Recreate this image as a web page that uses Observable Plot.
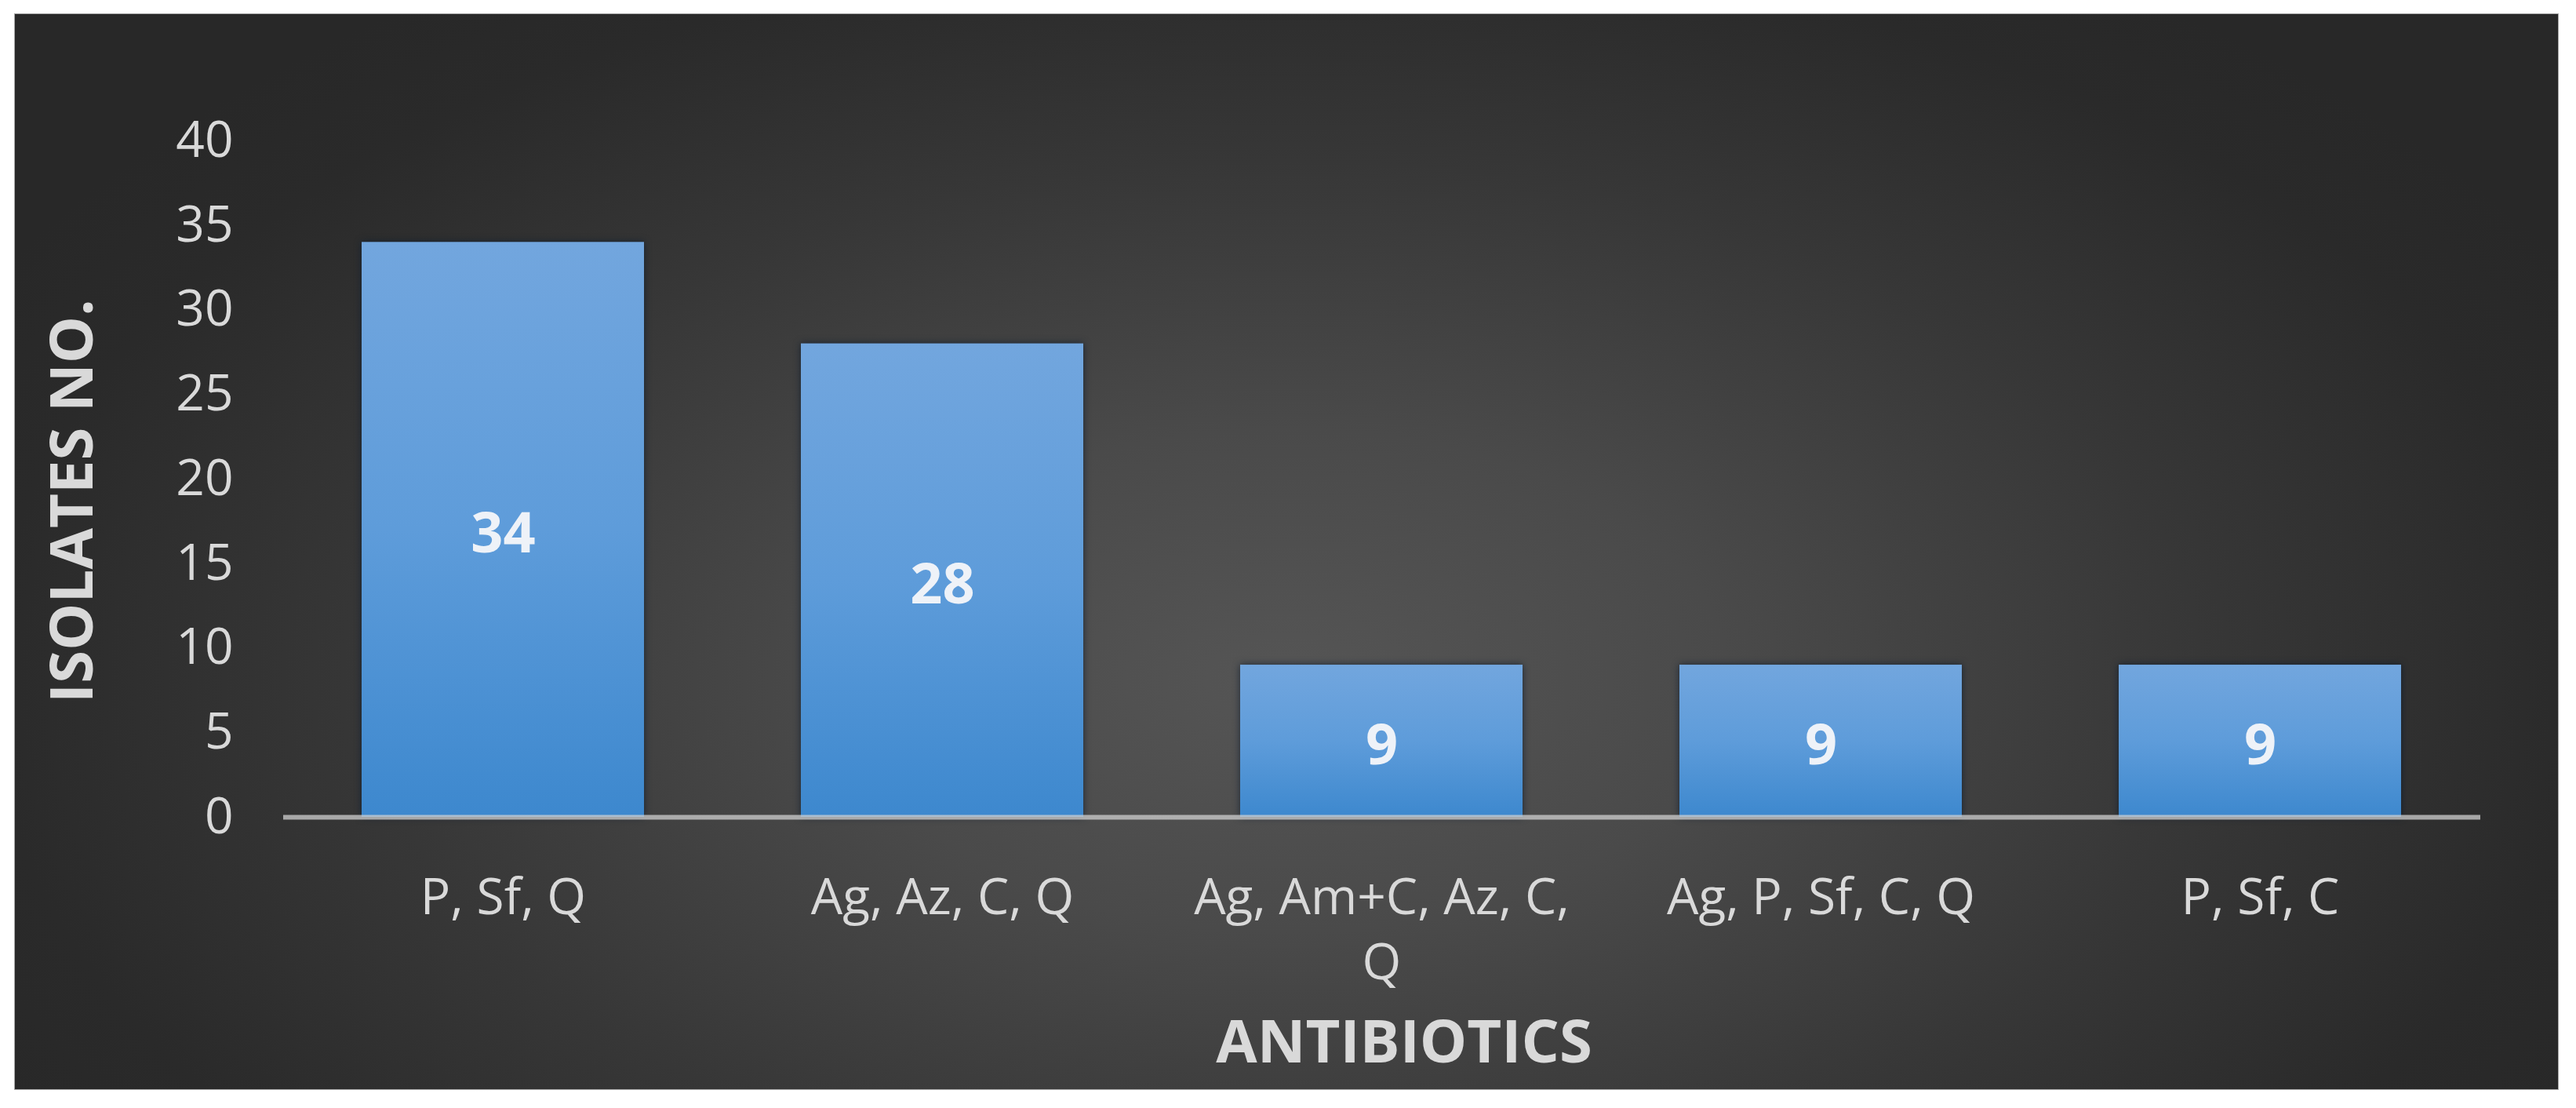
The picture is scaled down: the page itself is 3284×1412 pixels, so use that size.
<!DOCTYPE html>
<html>
<head>
<meta charset="utf-8">
<script src="https://cdn.jsdelivr.net/npm/d3@7"></script>
<script src="https://cdn.jsdelivr.net/npm/@observablehq/plot@0.6"></script>
<style>
  html, body { margin: 0; padding: 0; background: #ffffff; }
  #wrap { position: relative; width: 3284px; height: 1412px; overflow: hidden; }
  #panel {
    position: absolute; left: 18px; top: 17px; width: 3244px; height: 1372px;
    box-sizing: border-box; border: 1px solid #a8a8a8;
    background: radial-gradient(ellipse 58% 78% at 50% 62%, #555555 0%, #4a4a4a 30%, #373737 62%, #2a2a2a 88%, #282828 100%);
  }
  #chart { position: absolute; left: 0; top: 0; }
  #chart g[aria-label="bar"] rect { filter: drop-shadow(0 0 5px rgba(10, 25, 45, 0.75)); }
</style>
</head>
<body>
<div id="wrap">
  <div id="panel"></div>
  <div id="chart"></div>
</div>
<script>
const categories = ["P, Sf, Q", "Ag, Az, C, Q", "Ag, Am+C, Az, C, Q", "Ag, P, Sf, C, Q", "P, Sf, C"];
const categoryLabels = ["P, Sf, Q", "Ag, Az, C, Q", "Ag, Am+C, Az, C,\nQ", "Ag, P, Sf, C, Q", "P, Sf, C"];
const isolates = [34, 28, 9, 9, 9];
const yTicks = [0, 5, 10, 15, 20, 25, 30, 35, 40];
const yTitle = "ISOLATES NO.";
const xTitle = "ANTIBIOTICS";

const data = categories.map((c, i) => ({category: c, value: isolates[i]}));
const labelOf = new Map(categories.map((c, i) => [c, categoryLabels[i]]));

const gradientDefs = () => {
  const defs = d3.create("svg:defs");
  const g = defs.append("linearGradient")
    .attr("id", "barGrad").attr("x1", 0).attr("y1", 0).attr("x2", 0).attr("y2", 1);
  g.append("stop").attr("offset", "0%").attr("stop-color", "#72a6de");
  g.append("stop").attr("offset", "50%").attr("stop-color", "#5e9cda");
  g.append("stop").attr("offset", "100%").attr("stop-color", "#3d88ce");
  return defs.node();
};

const chart = Plot.plot({
  width: 3284,
  height: 1412,
  marginLeft: 361,
  marginRight: 122,
  marginTop: 179,
  marginBottom: 371,
  style: {background: "transparent", fontFamily: "'Open Sans', 'Noto Sans', sans-serif", color: "#d9d9d9", overflow: "visible"},
  x: {domain: categories, paddingInner: 0.357, paddingOuter: 0.1785, axis: null},
  y: {domain: [0, 40], axis: null},
  marks: [
    gradientDefs,
    Plot.barY(data, {x: "category", y: "value", fill: "url(#barGrad)"}),
    Plot.ruleY([0], {stroke: "#d0d0d0", strokeWidth: 6, strokeOpacity: 0.75}),
    Plot.axisY({ticks: yTicks, tickSize: 0, tickPadding: 64, fontSize: 64, fill: "#d9d9d9", label: null}),
    Plot.axisX({tickSize: 0, tickPadding: 64, fontSize: 64, lineHeight: 1.3, fill: "#d9d9d9", label: null,
                tickFormat: d => labelOf.get(d)}),
    Plot.text(data, {x: "category", y: d => d.value / 2, text: d => String(d.value), dy: 6,
                     fill: "#eef2f8", fontSize: 72, fontWeight: "bold"}),
    Plot.text([yTitle], {frameAnchor: "left", rotate: -90, dx: -268, dy: 28, fontSize: 76,
                         fontWeight: "bold", fill: "#d9d9d9", textAnchor: "middle", lineAnchor: "middle"}),
    Plot.text([xTitle], {frameAnchor: "bottom", dx: 28, dy: 288, fontSize: 76,
                         fontWeight: "bold", fill: "#d9d9d9", textAnchor: "middle", lineAnchor: "middle"})
  ]
});
document.getElementById("chart").appendChild(chart);
</script>
</body>
</html>
